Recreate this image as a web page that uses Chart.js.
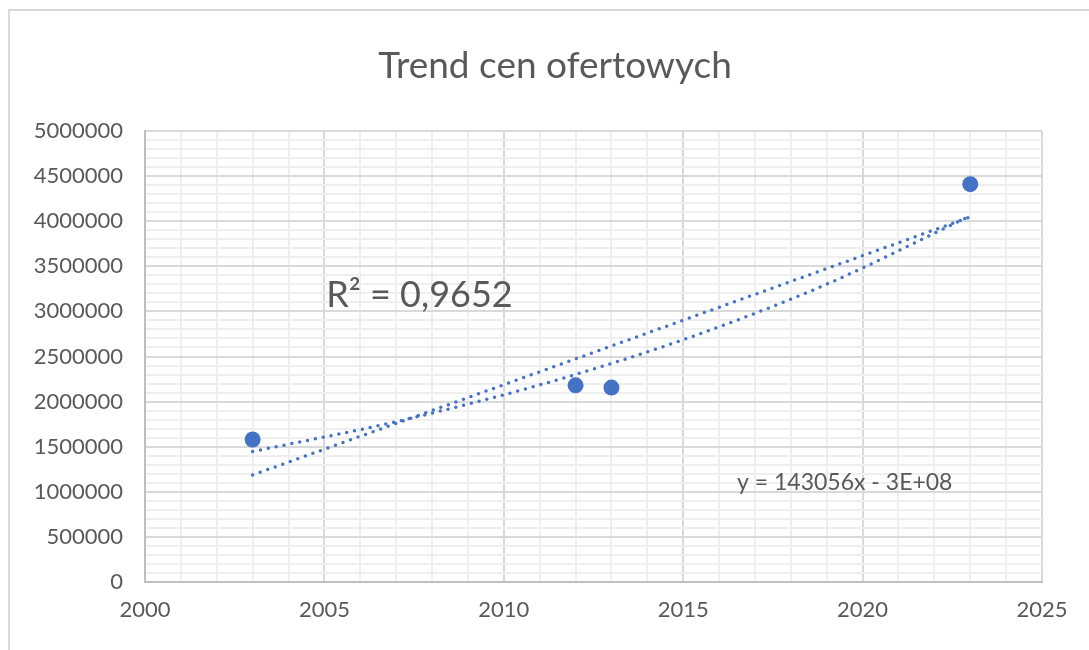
<!DOCTYPE html>
<html>
<head>
<meta charset="utf-8">
<script src="https://cdn.jsdelivr.net/npm/chart.js@4/dist/chart.umd.min.js"></script>
<style>
  html, body { margin: 0; padding: 0; background: #ffffff; }
  #wrap { width: 1089px; height: 650px; }
</style>
</head>
<body>
<div id="wrap"><canvas id="c" width="1089" height="650"></canvas></div>
<script>
// Offer prices by year
const years = [2003, 2012, 2013, 2023];
const prices = [1580000, 2180000, 2155000, 4410000];

// Linear trend line (end points)
const linearYears = [2003, 2023];
const linearTrend = [1186000, 4047000];

// Exponential trend line samples
const expYears = [2003, 2007, 2011, 2015, 2019, 2023];
const expTrend = [1446000, 1778000, 2185000, 2686000, 3302000, 4059000];

// Labelled ticks
const xTickLabels = [2000, 2005, 2010, 2015, 2020, 2025];
const yTickLabels = [0, 500000, 1000000, 1500000, 2000000, 2500000, 3000000, 3500000, 4000000, 4500000, 5000000];

const titleText = 'Trend cen ofertowych';
const r2Text = 'R\u00B2 = 0,9652';
const equationText = 'y = 143056x - 3E+08';

const BLUE = '#4472C4';
const TEXT = '#595959';
const FONT = 'Lato';

const toPoints = (xs, ys) => xs.map((x, i) => ({ x: x, y: ys[i] }));

// White background, light outer frame and the centred title
const framePlugin = {
  id: 'frame',
  beforeDraw(chart) {
    const ctx = chart.ctx;
    ctx.save();
    ctx.fillStyle = '#ffffff';
    ctx.fillRect(0, 0, chart.width, chart.height);
    ctx.strokeStyle = '#d9d9d9';
    ctx.lineWidth = 2;
    ctx.beginPath();
    ctx.moveTo(9, chart.height + 2);
    ctx.lineTo(9, 10);
    ctx.lineTo(chart.width + 2, 10);
    ctx.stroke();
    ctx.fillStyle = TEXT;
    ctx.font = '37px ' + FONT;
    ctx.textAlign = 'center';
    ctx.textBaseline = 'alphabetic';
    ctx.fillText(titleText, 555, 78);
    ctx.restore();
  }
};

// R² and trend equation labels, anchored in data units
const labelPlugin = {
  id: 'trendLabels',
  afterDraw(chart) {
    const ctx = chart.ctx;
    const xs = chart.scales.x, ys = chart.scales.y;
    ctx.save();
    ctx.fillStyle = TEXT;
    ctx.textBaseline = 'alphabetic';
    ctx.textAlign = 'left';
    ctx.font = '36px ' + FONT;
    ctx.fillText(r2Text, xs.getPixelForValue(2005.05), ys.getPixelForValue(3053000));
    ctx.font = '23px ' + FONT;
    ctx.fillText(equationText, xs.getPixelForValue(2016.5), ys.getPixelForValue(1018000));
    ctx.restore();
  }
};

const dotted = {
  showLine: true,
  pointRadius: 0,
  pointHoverRadius: 0,
  borderColor: BLUE,
  borderWidth: 3.5,
  borderDash: [0, 8],
  borderCapStyle: 'round',
  fill: false
};

new Chart(document.getElementById('c'), {
  type: 'scatter',
  data: {
    datasets: [
      Object.assign({ label: 'Trend liniowy', data: toPoints(linearYears, linearTrend) }, dotted),
      Object.assign({ label: 'Trend wykładniczy', data: toPoints(expYears, expTrend), cubicInterpolationMode: 'monotone' }, dotted),
      {
        label: 'Cena ofertowa',
        data: toPoints(years, prices),
        showLine: false,
        pointRadius: 8,
        pointBackgroundColor: BLUE,
        pointBorderColor: BLUE,
        pointBorderWidth: 0
      }
    ]
  },
  options: {
    responsive: false,
    animation: false,
    layout: { padding: { left: 0, right: 47, top: 131, bottom: 0 } },
    plugins: {
      legend: { display: false },
      tooltip: { enabled: false },
      title: { display: false }
    },
    scales: {
      x: {
        type: 'linear',
        min: 2000,
        max: 2025,
        afterFit(scale) { scale.height = 68; },
        border: { color: '#bfbfbf', width: 2 },
        grid: {
          drawTicks: false,
          lineWidth: 2,
          color: (c) => xTickLabels.includes(Math.round(c.tick.value)) ? '#d9d9d9' : '#efefef'
        },
        ticks: {
          stepSize: 1,
          autoSkip: false,
          maxRotation: 0,
          padding: 15,
          color: TEXT,
          font: { family: FONT, size: 22 },
          callback: (v) => xTickLabels.includes(Math.round(v)) ? String(Math.round(v)) : ''
        }
      },
      y: {
        type: 'linear',
        min: 0,
        max: 5000000,
        afterFit(scale) { scale.width = 145; },
        border: { color: '#bfbfbf', width: 2 },
        grid: {
          drawTicks: false,
          lineWidth: 2,
          color: (c) => yTickLabels.includes(Math.round(c.tick.value)) ? '#d9d9d9' : '#efefef'
        },
        ticks: {
          stepSize: 100000,
          autoSkip: false,
          padding: 22,
          color: TEXT,
          font: { family: FONT, size: 22 },
          callback: (v) => yTickLabels.includes(Math.round(v)) ? String(Math.round(v)) : ''
        }
      }
    }
  },
  plugins: [framePlugin, labelPlugin]
});
</script>
</body>
</html>
